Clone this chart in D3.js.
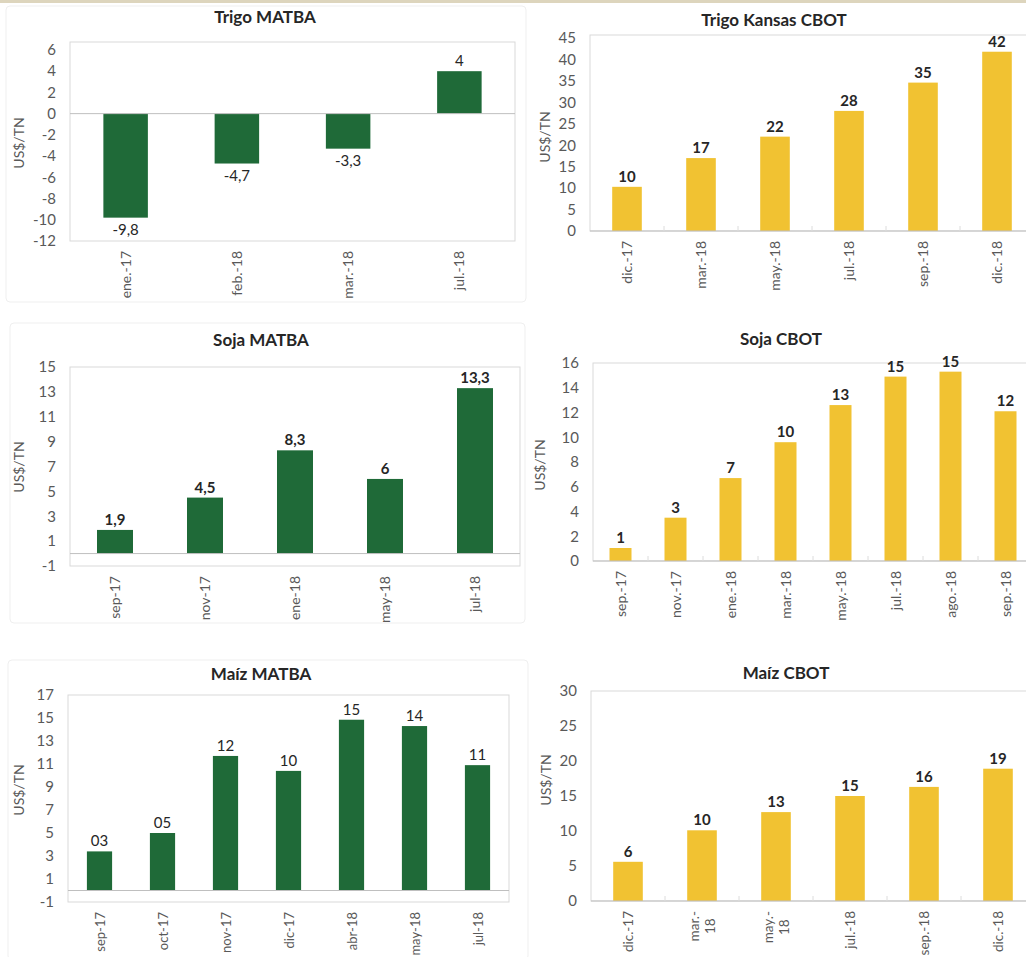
<!DOCTYPE html>
<html>
<head>
<meta charset="utf-8">
<script src="https://cdn.jsdelivr.net/npm/d3@7"></script>
<style>
  html, body { margin: 0; padding: 0; background: #ffffff; }
  svg { display: block; }
  text { font-family: Lato, "Open Sans", "Liberation Sans", sans-serif; }
</style>
</head>
<body>
<svg id="chart" width="1026" height="957"></svg>
<script>
// ---------------- DATA ----------------
const trigoMatbaCats   = ["ene.-17", "feb.-18", "mar.-18", "jul.-18"];
const trigoMatbaVals   = [-9.8, -4.7, -3.3, 4];
const trigoMatbaLabels = ["-9,8", "-4,7", "-3,3", "4"];
const trigoMatbaTicks  = [6, 4, 2, 0, -2, -4, -6, -8, -10, -12];

const trigoKansasCats   = ["dic.-17", "mar.-18", "may.-18", "jul.-18", "sep.-18", "dic.-18"];
const trigoKansasVals   = [10.3, 17, 22, 28, 34.6, 41.8];
const trigoKansasLabels = ["10", "17", "22", "28", "35", "42"];
const trigoKansasTicks  = [0, 5, 10, 15, 20, 25, 30, 35, 40, 45];

const sojaMatbaCats   = ["sep-17", "nov-17", "ene-18", "may-18", "jul-18"];
const sojaMatbaVals   = [1.9, 4.5, 8.3, 6, 13.3];
const sojaMatbaLabels = ["1,9", "4,5", "8,3", "6", "13,3"];
const sojaMatbaTicks  = [-1, 1, 3, 5, 7, 9, 11, 13, 15];

const sojaCbotCats   = ["sep.-17", "nov.-17", "ene.-18", "mar.-18", "may.-18", "jul.-18", "ago.-18", "sep.-18"];
const sojaCbotVals   = [1.05, 3.5, 6.7, 9.6, 12.6, 14.9, 15.3, 12.1];
const sojaCbotLabels = ["1", "3", "7", "10", "13", "15", "15", "12"];
const sojaCbotTicks  = [0, 2, 4, 6, 8, 10, 12, 14, 16];

const maizMatbaCats   = ["sep-17", "oct-17", "nov-17", "dic-17", "abr-18", "may-18", "jul-18"];
const maizMatbaVals   = [3.4, 5.0, 11.7, 10.4, 14.85, 14.3, 10.9];
const maizMatbaLabels = ["03", "05", "12", "10", "15", "14", "11"];
const maizMatbaTicks  = [-1, 1, 3, 5, 7, 9, 11, 13, 15, 17];

const maizCbotCats   = ["dic.-17", "mar.-\n18", "may.-\n18", "jul.-18", "sep.-18", "dic.-18"];
const maizCbotVals   = [5.6, 10.1, 12.7, 15, 16.3, 18.9];
const maizCbotLabels = ["6", "10", "13", "15", "16", "19"];
const maizCbotTicks  = [0, 5, 10, 15, 20, 25, 30];

const titles = ["Trigo MATBA", "Trigo Kansas CBOT", "Soja MATBA", "Soja CBOT", "Maíz MATBA", "Maíz CBOT"];
const yAxisTitle = "US$/TN";

// ---------------- LAYOUT / STYLE ----------------
const GREEN = "#1f6a38";
const GOLD  = "#f1c232";

const panels = [
  { title: titles[0], cats: trigoMatbaCats, vals: trigoMatbaVals, labels: trigoMatbaLabels, ticks: trigoMatbaTicks,
    color: GREEN, x0: 70, x1: 515, y0: 42, y1: 241, dom: [-12, 6.75], tx: 265, ty: 23, lx: 19, ly: 143, weight: "normal", xfs: 14 },
  { title: titles[1], cats: trigoKansasCats, vals: trigoKansasVals, labels: trigoKansasLabels, ticks: trigoKansasTicks,
    color: GOLD, x0: 590, x1: 1034, y0: 35, y1: 231, dom: [0, 45.7], tx: 774, ty: 26, lx: 545, ly: 137, weight: "bold", xfs: 14 },
  { title: titles[2], cats: sojaMatbaCats, vals: sojaMatbaVals, labels: sojaMatbaLabels, ticks: sojaMatbaTicks,
    color: GREEN, x0: 70, x1: 520, y0: 367, y1: 566, dom: [-1, 15], tx: 261, ty: 346, lx: 19, ly: 467, weight: "bold", xfs: 14 },
  { title: titles[3], cats: sojaCbotCats, vals: sojaCbotVals, labels: sojaCbotLabels, ticks: sojaCbotTicks,
    color: GOLD, x0: 593, x1: 1033, y0: 363, y1: 561, dom: [0, 16], tx: 781, ty: 345, lx: 540, ly: 465, weight: "bold", xfs: 14 },
  { title: titles[4], cats: maizMatbaCats, vals: maizMatbaVals, labels: maizMatbaLabels, ticks: maizMatbaTicks,
    color: GREEN, x0: 68, x1: 509, y0: 695, y1: 902, dom: [-1, 17], tx: 261, ty: 680, lx: 19, ly: 790, weight: "normal", xfs: 13 },
  { title: titles[5], cats: maizCbotCats, vals: maizCbotVals, labels: maizCbotLabels, ticks: maizCbotTicks,
    color: GOLD, x0: 591, x1: 1035, y0: 691, y1: 901, dom: [0, 30], tx: 786, ty: 679, lx: 546, ly: 780, weight: "bold", xfs: 13.5 }
];

const svg = d3.select("#chart");

// top beige strip
svg.append("rect").attr("x", 0).attr("y", 0).attr("width", 1026).attr("height", 3).attr("fill", "#ddd5bd");

// faint chart-area frames (left column)
[[6, 6, 520, 296], [10, 323, 515, 300], [8, 660, 520, 300]].forEach(r => {
  svg.append("rect").attr("x", r[0]).attr("y", r[1]).attr("width", r[2]).attr("height", r[3])
    .attr("rx", 4).attr("fill", "none").attr("stroke", "#efefef");
});

panels.forEach(p => {
  const g = svg.append("g");
  const x = d3.scaleBand().domain(p.cats).range([p.x0, p.x1]).paddingInner(0.6).paddingOuter(0.3);
  const xb = d3.scaleBand().domain(p.cats).range([p.x0, p.x1]);
  const y = d3.scaleLinear().domain(p.dom).range([p.y1, p.y0]);

  // plot border
  g.append("rect").attr("x", p.x0).attr("y", p.y0).attr("width", p.x1 - p.x0).attr("height", p.y1 - p.y0)
    .attr("fill", "none").attr("stroke", "#d9d9d9").attr("stroke-width", 1);

  // y axis
  const yAxis = d3.axisLeft(y).tickValues(p.ticks).tickSize(0).tickPadding(14).tickFormat(d => String(d));
  const ya = g.append("g").attr("transform", `translate(${p.x0},0)`).call(yAxis);
  ya.select(".domain").remove();
  ya.selectAll("text").attr("fill", "#595959").style("font-size", "15px");

  // bars
  g.selectAll(".bar").data(p.vals).enter().append("rect")
    .attr("x", (d, i) => x(p.cats[i]))
    .attr("width", x.bandwidth())
    .attr("y", d => Math.min(y(d), y(0)))
    .attr("height", d => Math.abs(y(d) - y(0)))
    .attr("fill", p.color);

  // zero line
  g.append("line").attr("x1", p.x0).attr("x2", p.x1).attr("y1", y(0)).attr("y2", y(0))
    .attr("stroke", "#bfbfbf").attr("stroke-width", 1);

  // small category-separator ticks
  if (p.color === GOLD) {
    p.cats.slice(1).forEach(c => {
      const xx = xb(c);
      g.append("line").attr("x1", xx).attr("x2", xx).attr("y1", y(0)).attr("y2", y(0) - 5)
        .attr("stroke", "#dcdcdc");
    });
  }

  // data labels
  g.selectAll(".lbl").data(p.vals).enter().append("text")
    .attr("x", (d, i) => x(p.cats[i]) + x.bandwidth() / 2)
    .attr("y", d => d >= 0 ? y(d) - 5 : y(d) + 17)
    .attr("text-anchor", "middle")
    .attr("fill", "#262626")
    .style("font-size", "15px")
    .style("font-weight", p.weight)
    .text((d, i) => p.labels[i]);

  // x labels (rotated)
  p.cats.forEach(c => {
    const lines = c.split("\n");
    const cx = xb(c) + xb.bandwidth() / 2;
    const lh = 16;
    const t = g.append("text")
      .attr("fill", "#595959")
      .style("font-size", p.xfs + "px")
      .attr("text-anchor", "middle");
    lines.forEach((ln, k) => {
      t.append("tspan").attr("x", 0).attr("dy", k === 0 ? 0 : lh).text(ln);
    });
    let maxLen = 0;
    t.selectAll("tspan").each(function () { maxLen = Math.max(maxLen, this.getComputedTextLength()); });
    const blockOffset = (lines.length - 1) * lh / 2;
    const tx = cx - blockOffset + 5;
    const ty = p.y1 + 10 + maxLen / 2;
    t.attr("transform", `translate(${tx},${ty}) rotate(-90)`);
  });

  // y axis title
  g.append("text")
    .attr("transform", `translate(${p.lx},${p.ly}) rotate(-90)`)
    .attr("text-anchor", "middle").attr("dy", "0.35em")
    .attr("fill", "#595959").style("font-size", "14px")
    .text(yAxisTitle);

  // title
  g.append("text").attr("x", p.tx).attr("y", p.ty).attr("text-anchor", "middle")
    .attr("fill", "#262626").style("font-size", "17px").style("font-weight", "bold")
    .text(p.title);
});
</script>
</body>
</html>
